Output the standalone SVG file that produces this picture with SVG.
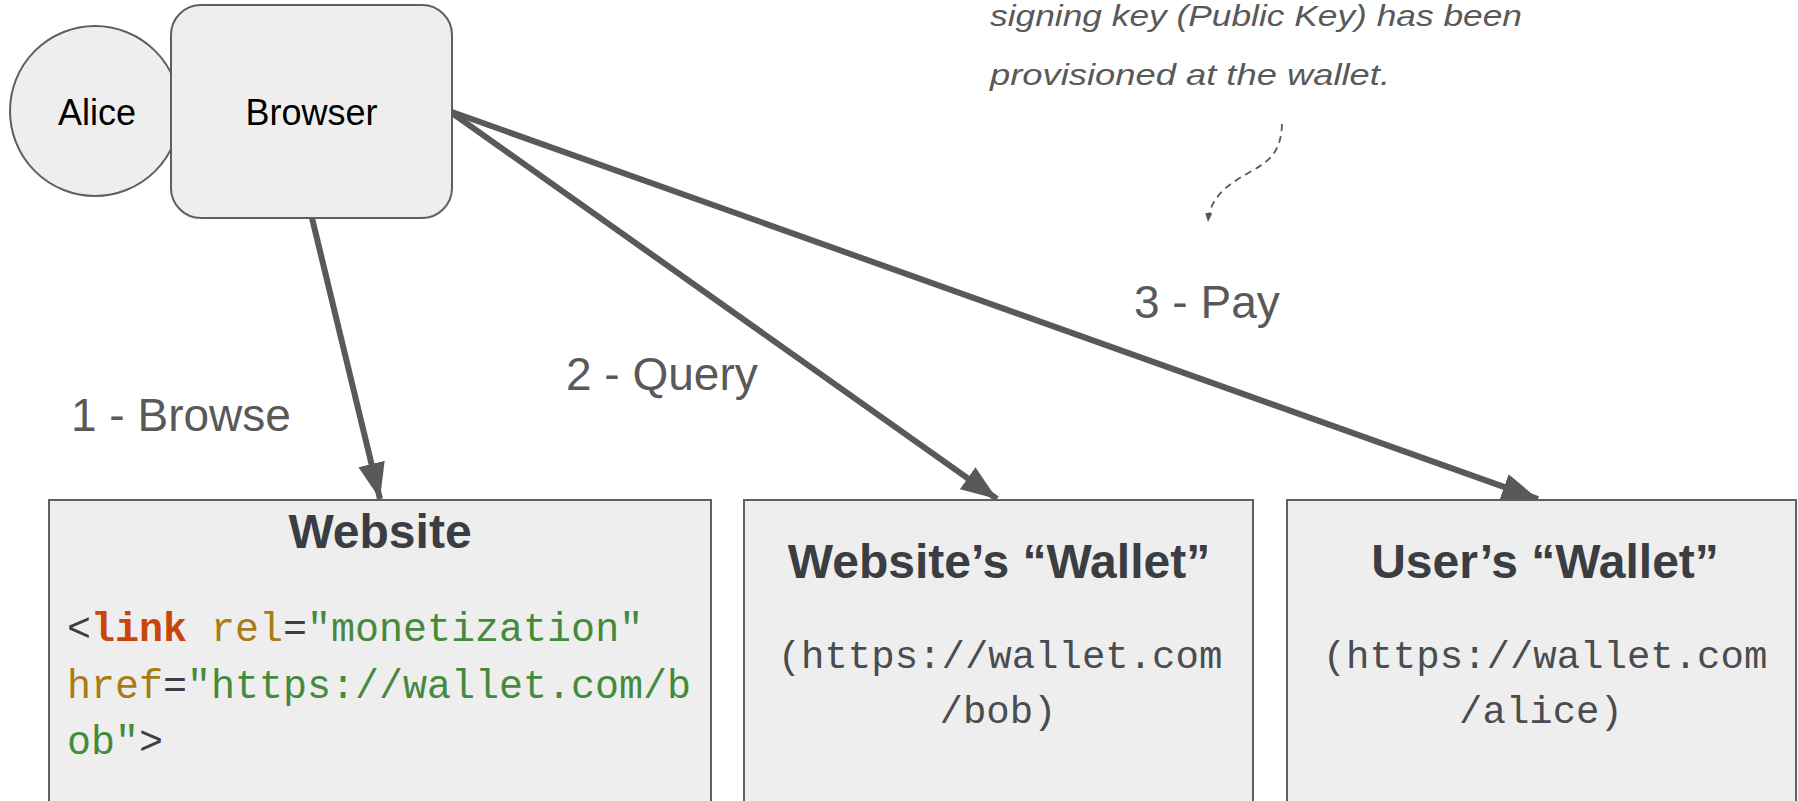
<svg xmlns="http://www.w3.org/2000/svg" width="1798" height="801" viewBox="0 0 1798 801">
  <defs>
    <style>
      .shape { fill: #eeeeee; stroke: #5f5f5f; stroke-width: 2; }
      .nodelabel { font-family: "Liberation Sans", Arial, sans-serif; font-size: 36px; fill: #000000; text-anchor: middle; }
      .title { font-family: "Liberation Sans", Arial, sans-serif; font-size: 48px; font-weight: bold; fill: #3a3d42; text-anchor: middle; }
      .mono { font-family: "Liberation Mono", "Courier New", monospace; font-size: 39px; fill: #4a4c50; }
      .code { font-size: 40px; }
      .edgelabel { font-family: "Liberation Sans", Arial, sans-serif; font-size: 46px; fill: #595959; }
      .note { font-family: "Liberation Sans", Arial, sans-serif; font-style: italic; font-size: 30px; fill: #595959; }
      .conn { fill: none; stroke: #595959; stroke-width: 6; }
      .dashed { fill: none; stroke: #595959; stroke-width: 1.8; stroke-dasharray: 7 5; }
      .tag { fill: #c8460d; font-weight: bold; }
      .attr { fill: #a87c12; }
      .str { fill: #458a3c; }
      .punct { fill: #3c4043; }
    </style>
    <marker id="arrow" viewBox="0 0 12 9" refX="12" refY="4.5" markerWidth="6" markerHeight="4.5" orient="auto" markerUnits="strokeWidth">
      <path d="M0,0 L12,4.5 L0,9 Z" fill="#595959"/>
    </marker>
    <marker id="smallarrow" viewBox="0 0 10 8" refX="10" refY="4" markerWidth="5" markerHeight="4" orient="auto" markerUnits="strokeWidth">
      <path d="M0,0 L10,4 L0,8 Z" fill="#595959"/>
    </marker>
  </defs>

  <g id="connectors">
    <line class="conn" x1="312" y1="218" x2="380" y2="499" marker-end="url(#arrow)"/>
    <line class="conn" x1="452" y1="113" x2="997" y2="499" marker-end="url(#arrow)"/>
    <line class="conn" x1="452" y1="112" x2="1538" y2="499" marker-end="url(#arrow)"/>
    <path class="dashed" d="M1282,124 C1281,150 1272,160 1250,172 C1225,186 1210,198 1208,222" marker-end="url(#smallarrow)"/>
  </g>

  <g id="alice">
    <circle class="shape" cx="95" cy="111" r="85"/>
    <text class="nodelabel" x="97" y="125">Alice</text>
  </g>

  <g id="browser">
    <rect class="shape" x="171" y="5" width="281" height="213" rx="30" ry="30"/>
    <text class="nodelabel" x="311.5" y="125">Browser</text>
  </g>

  <g id="website">
    <rect class="shape" x="49" y="500" width="662" height="330"/>
    <text class="title" x="380" y="548">Website</text>
    <text class="mono code" x="67" y="641"><tspan class="punct">&lt;</tspan><tspan class="tag">link</tspan> <tspan class="attr">rel</tspan><tspan class="punct">=</tspan><tspan class="str">"monetization"</tspan></text>
    <text class="mono code" x="67" y="698"><tspan class="attr">href</tspan><tspan class="punct">=</tspan><tspan class="str">"https://wallet.com/b</tspan></text>
    <text class="mono code" x="67" y="754"><tspan class="str">ob"</tspan><tspan class="punct">&gt;</tspan></text>
  </g>

  <g id="website-wallet">
    <rect class="shape" x="744" y="500" width="509" height="330"/>
    <text class="title" x="999" y="578">Website’s “Wallet”</text>
    <text class="mono" x="1000" y="668" text-anchor="middle">(https://wallet.com</text>
    <text class="mono" x="998" y="723" text-anchor="middle">/bob)</text>
  </g>

  <g id="user-wallet">
    <rect class="shape" x="1287" y="500" width="509" height="330"/>
    <text class="title" x="1545" y="578">User’s “Wallet”</text>
    <text class="mono" x="1545" y="668" text-anchor="middle">(https://wallet.com</text>
    <text class="mono" x="1541" y="723" text-anchor="middle">/alice)</text>
  </g>

  <g id="labels">
    <text class="edgelabel" x="71" y="431">1 - Browse</text>
    <text class="edgelabel" x="566" y="390">2 - Query</text>
    <text class="edgelabel" x="1134" y="318">3 - Pay</text>
  </g>

  <g id="note">
    <text class="note" x="990" y="26" textLength="532" lengthAdjust="spacingAndGlyphs">signing key (Public Key) has been</text>
    <text class="note" x="990" y="85" textLength="400" lengthAdjust="spacingAndGlyphs">provisioned at the wallet.</text>
  </g>
</svg>
